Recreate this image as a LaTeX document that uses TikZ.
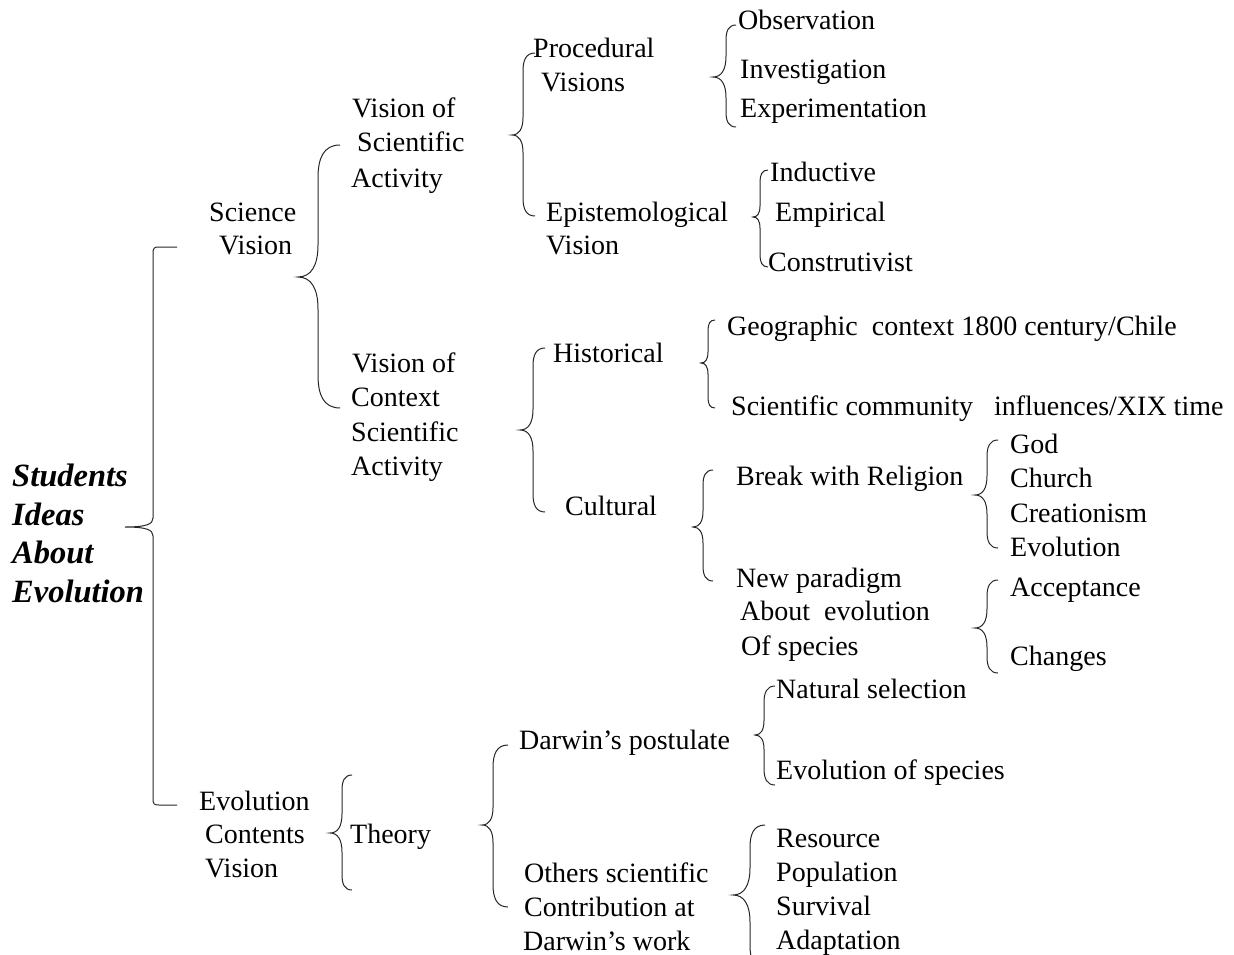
\documentclass[tikz,border=0pt]{standalone}
\usepackage{fontspec}
\setmainfont{Liberation Serif}

% curly brace opening to the right
% #1 spine x, #2 top y, #3 tip y, #4 bottom y, #5 tip x, #6 end x of the hooks
\newcommand\drawbrace[6]{%
  \pgfmathsetmacro\bh{#6-#1}%
  \pgfmathsetmacro\bv{1.5*(#6-#1)}%
  \pgfmathsetmacro\bd{#1-#5}%
  \pgfmathsetmacro\bt{1.6*(#1-#5)}%
  \draw[brace] (#6,#2) .. controls ({#1+0.25*\bh},#2) and (#1,{#2+0.4*\bv}) .. (#1,{#2+\bv})
    -- (#1,{#3-\bt}) .. controls (#1,{#3-0.35*\bt}) and ({#1-0.35*\bd},#3) .. (#5,#3)
    .. controls ({#1-0.35*\bd},#3) and (#1,{#3+0.35*\bt}) .. (#1,{#3+\bt})
    -- (#1,{#4-\bv}) .. controls (#1,{#4-0.4*\bv}) and ({#1+0.25*\bh},#4) .. (#6,#4);
}

\begin{document}
\begin{tikzpicture}[x=1pt,y=-1pt,
  lbl/.style={anchor=base west,inner sep=0pt,font=\rmfamily\fontsize{28}{34}\selectfont},
  ttl/.style={anchor=base west,inner sep=0pt,font=\rmfamily\fontsize{32.5}{39}\selectfont\bfseries\itshape},
  brace/.style={draw=black!85,line width=1pt}]
\useasboundingbox (0,0) rectangle (1234,955);
\clip (0,0) rectangle (1234,955);

% root
\node[ttl] (t1) at (12,486) {Students};
\node[ttl] (t2) at (12,525) {Ideas};
\node[ttl] (t3) at (12,563) {About};
\node[ttl] (t4) at (12,602) {Evolution};

% root bracket
\draw[brace] (177,247) -- (159,247) .. controls (154,247) and (153,248) .. (153,254)
  -- (153,518) .. controls (153,524) and (147,527) .. (125,527)
  .. controls (147,527) and (153,530) .. (153,536)
  -- (153,799) .. controls (153,804) and (154,805) .. (159,805) -- (177,805);

% science vision
\node[lbl] (sv1) at (209,221) {Science};
\node[lbl] (sv2) at (219,254) {Vision};
\drawbrace{318}{145}{277}{408}{298}{340}

\node[lbl] (vsa1) at (352,118) {Vision of};
\node[lbl] (vsa2) at (357,152) {Scientific};
\node[lbl] (vsa3) at (351,187) {Activity};
\drawbrace{523}{53}{135}{216}{512}{535}

\node[lbl] (pv1) at (533,58) {Procedural};
\node[lbl] (pv2) at (541,92) {Visions};
\drawbrace{726}{25}{77}{127}{713}{736}
\node[lbl] (obs) at (738,30) {Observation};
\node[lbl] (inv) at (740,79) {Investigation};
\node[lbl] (exp) at (740,118) {Experimentation};

\node[lbl] (ev1) at (546,221) {Epistemological};
\node[lbl] (ev2) at (546,254) {Vision};
\drawbrace{760}{170}{217}{267}{753}{768}
\node[lbl] (ind) at (770,182) {Inductive};
\node[lbl] (emp) at (775,221) {Empirical};
\node[lbl] (con) at (768,271) {Construtivist};

% context of scientific activity
\node[lbl] (vc1) at (352,372) {Vision of};
\node[lbl] (vc2) at (351,406) {Context};
\node[lbl] (vc3) at (351,441) {Scientific};
\node[lbl] (vc4) at (351,475) {Activity};
\drawbrace{533}{348}{430}{512}{520}{545}

\node[lbl] (his) at (553,362) {Historical};
\drawbrace{708}{320}{363}{408}{701}{715}
\node[lbl] (geo) at (727,335) {Geographic\ \ context 1800 century/Chile};
\node[lbl] (com) at (731,415) {Scientific community\ \ \ influences/XIX time};

\node[lbl] (cul) at (565,515) {Cultural};
\drawbrace{703}{470}{527}{581}{693}{713}
\node[lbl] (brk) at (736,485) {Break with Religion};
\drawbrace{987}{440}{495}{548}{975}{998}
\node[lbl] (god) at (1010,453) {God};
\node[lbl] (chu) at (1010,487) {Church};
\node[lbl] (cre) at (1010,522) {Creationism};
\node[lbl] (evo) at (1010,556) {Evolution};

\node[lbl] (np1) at (736,587) {New paradigm};
\node[lbl] (np2) at (740,620) {About\ \ evolution};
\node[lbl] (np3) at (741,655) {Of species};
\drawbrace{987}{580}{628}{673}{975}{998}
\node[lbl] (acc) at (1010,596) {Acceptance};
\node[lbl] (chg) at (1010,665) {Changes};

% evolution contents
\node[lbl] (ec1) at (199,810) {Evolution};
\node[lbl] (ec2) at (205,843) {Contents};
\node[lbl] (ec3) at (205,877) {Vision};
\drawbrace{342}{775}{833}{890}{330}{352}
\node[lbl] (the) at (350,843) {Theory};
\drawbrace{493}{745}{825}{907}{482}{508}

\node[lbl] (dp) at (519,749) {Darwin’s postulate};
\drawbrace{764}{686}{735}{785}{755}{775}
\node[lbl] (nat) at (776,698) {Natural selection};
\node[lbl] (eos) at (776,779) {Evolution of species};

\node[lbl] (os1) at (524,882) {Others scientific};
\node[lbl] (os2) at (524,916) {Contribution at};
\node[lbl] (os3) at (523,950) {Darwin’s work};
\drawbrace{750}{825}{895}{968}{733}{765}
\node[lbl] (res) at (776,847) {Resource};
\node[lbl] (pop) at (776,881) {Population};
\node[lbl] (sur) at (776,915) {Survival};
\node[lbl] (ada) at (776,949) {Adaptation};
\end{tikzpicture}
\end{document}
